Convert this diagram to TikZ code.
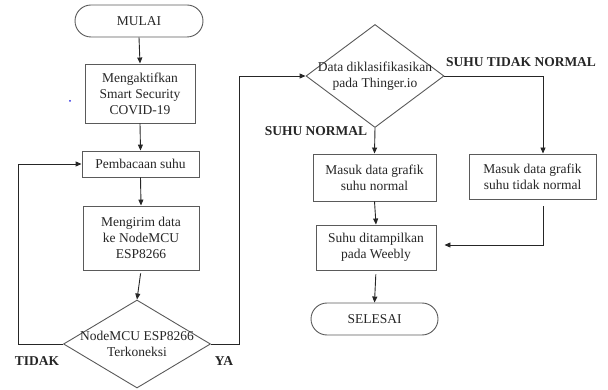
\documentclass[tikz,border=0pt]{standalone}
\usepackage{fontspec}
\setmainfont{Liberation Serif}
\usetikzlibrary{arrows.meta,shapes.geometric}
\definecolor{ink}{HTML}{262626}
\definecolor{edge}{HTML}{5A5A5A}
\definecolor{speck}{HTML}{2A2AE0}
\tikzset{
  box/.style={draw=edge,fill=white,align=center,font=\fontsize{13.5}{16}\selectfont,inner sep=2pt,line width=0.9pt,text=ink},
  termbox/.style={box,rounded corners=16pt,minimum width=128pt,minimum height=32pt},
  procbox/.style={box,rectangle},
  decbox/.style={box,diamond,inner sep=-5pt},
  lab/.style={font=\fontsize{13.5}{16}\selectfont\bfseries,text=ink},
  arr/.style={-{Triangle[length=6pt,width=5pt]},draw=ink,line width=0.9pt},
}
\begin{document}
\begin{tikzpicture}[x=1pt,y=-1pt]
  \useasboundingbox (0,0) rectangle (608,390);
  \node[termbox] (mulai) at (139,21) {MULAI};
  \node[procbox,minimum width=110pt,minimum height=59pt] (aktif) at (140,93.5) {Mengaktifkan\\Smart Security\\COVID-19};
  \node[procbox,minimum width=117pt,minimum height=26pt] (baca) at (140.5,164) {Pembacaan suhu};
  \node[procbox,minimum width=116pt,minimum height=64pt] (kirim) at (141,238) {Mengirim data\\ke NodeMCU\\ESP8266};
  \node[decbox,minimum width=147pt,minimum height=88pt,aspect=1.67] (konek) at (137,344) {NodeMCU ESP8266\\Terkoneksi};
  \node[decbox,minimum width=138pt,minimum height=103pt,aspect=1.34] (klas) at (375,76) {Data diklasifikasikan\\pada Thinger.io};
  \node[procbox,minimum width=123pt,minimum height=47pt] (normal) at (374.5,177.5) {Masuk data grafik\\suhu normal};
  \node[procbox,minimum width=127pt,minimum height=45pt] (tdknormal) at (532.5,176.5) {Masuk data grafik\\suhu tidak normal};
  \node[procbox,minimum width=120pt,minimum height=45pt] (tampil) at (376,247.5) {Suhu ditampilkan\\pada Weebly};
  \node[termbox,minimum width=127pt] (selesai) at (374.5,319) {SELESAI};
  \node[lab] (tidak) at (37,361) {TIDAK};
  \node[lab] (ya) at (224,361) {YA};
  \node[lab] (lnormal) at (316,131) {SUHU NORMAL};
  \node[lab] (ltdk) at (521,62) {SUHU TIDAK NORMAL};
  \draw[arr] (mulai.south) -- (aktif.north);
  \draw[arr] (aktif.south) -- (baca.north);
  \draw[arr] (baca.south) -- (kirim.north);
  \draw[arr,shorten <=3pt] (kirim.south) -- (konek.north);
  \draw[arr] (konek.west) -- ++(-45,0) |- (baca.west);
  \draw[arr] (konek.east) -- ++(28,0) |- (klas.west);
  \draw[arr] (klas.east) -| ([xshift=10.5pt]tdknormal.north);
  \draw[arr] (klas.south) -- (normal.north);
  \draw[arr] (normal.south) -- (tampil.north);
  \draw[arr,shorten <=7pt,shorten >=8pt] ([xshift=10.5pt]tdknormal.south) |- ([yshift=2.5pt]tampil.east);
  \draw[arr,shorten <=4pt] (tampil.south) -- (selesai.north);
  \fill[speck] (70,101) circle (1pt);
\end{tikzpicture}
\end{document}
